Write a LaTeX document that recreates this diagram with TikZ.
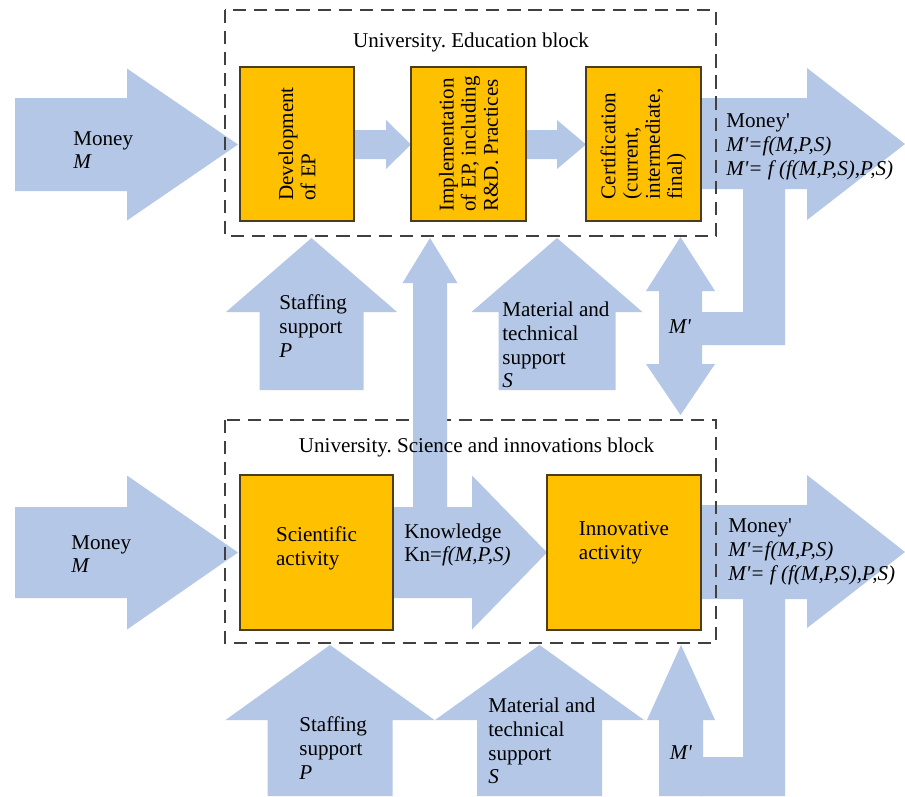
\documentclass[tikz,border=0pt]{standalone}
\usepackage{fontspec}
\setmainfont{LiberationSerif}[Extension=.ttf,UprightFont=*-Regular,ItalicFont=*-Italic,BoldFont=*-Bold,BoldItalicFont=*-BoldItalic]
\usepackage{tikz}
\usetikzlibrary{positioning,calc}
\definecolor{flowblue}{HTML}{B4C7E7}
\definecolor{gold}{HTML}{FFC000}
\definecolor{boxedge}{HTML}{4A3D1C}
\definecolor{framegray}{HTML}{404040}
\frenchspacing
\newcommand{\flowright}[6]{
  \fill[flow] (#1,#4-#5) -- (#2,#4-#5) -- (#2,#4-#6) -- (#3,#4) -- (#2,#4+#6) -- (#2,#4+#5) -- (#1,#4+#5) -- cycle;
}
\newcommand{\flowup}[6]{
  \fill[flow] (#1-#5,#2) -- (#1-#5,#3) -- (#1-#6,#3) -- (#1,#4) -- (#1+#6,#3) -- (#1+#5,#3) -- (#1+#5,#2) -- cycle;
}
\newcommand{\actbox}[4]{
  \node[actbox,minimum width=#3,minimum height=#4] (#1) at #2 {};
}
\tikzset{
  flow/.style={fill=flowblue},
  actbox/.style={draw=boxedge,fill=gold,line width=0.9pt,inner sep=0pt},
  blockframe/.style={draw=framegray,line width=1.1pt,dash pattern=on 7.5pt off 4.5pt},
  txt/.style={font=\fontsize{12pt}{13.5pt}\selectfont,align=left,inner sep=0pt},
  vtxt/.style={txt,font=\fontsize{12pt}{12.6pt}\selectfont,rotate=90},
}

\begin{document}
\begin{tikzpicture}[x=0.02cm,y=-0.02cm]
  \fill[white] (0,0) rectangle (905,796);
  \useasboundingbox (0,0) rectangle (905,796);

  \flowright{15}{127}{238}{144.5}{46.5}{76}
  \flowright{354}{386}{411}{144.5}{14.5}{24.5}
  \flowright{526}{557}{586}{144.5}{14.5}{24.5}
  \fill[flow] (701,98) -- (807,98) -- (807,68) -- (905,144) -- (807,220) -- (807,189) -- (785,189)
    -- (785,345) -- (702,345) -- (702,312) -- (743,312) -- (743,189) -- (701,189) -- cycle;
  \fill[flow] (680.5,237) -- (715,291) -- (702,291) -- (702,364) -- (715,364) -- (680.5,415)
    -- (646,364) -- (659,364) -- (659,291) -- (646,291) -- cycle;
  \flowup{311.5}{390}{312}{238}{52}{85.5}
  \flowup{557}{390}{312}{238}{58.5}{85.5}

  \flowright{15}{127}{238}{552.5}{45.5}{77}
  \flowright{393}{472}{547}{552.5}{45.5}{77}
  \fill[flow] (701,505) -- (807,505) -- (807,475) -- (905,552) -- (807,628) -- (807,599) -- (785,599)
    -- (785,796) -- (700,796) -- (700,757) -- (743,757) -- (743,599) -- (701,599) -- cycle;
  \flowup{330}{796}{720}{645}{62.5}{104.5}
  \flowup{539.5}{796}{720}{645}{62.5}{104.5}
  \flowup{681}{796}{720}{645}{22}{34}

  \draw[blockframe] (225,10) rectangle (716,236);
  \draw[blockframe] (225,420) rectangle (716,643);

  \flowup{430}{508}{283}{238}{17}{27.5}

  \actbox{dev}{(297,144)}{2.28cm}{3.08cm}
  \actbox{impl}{(468.5,144)}{2.3cm}{3.08cm}
  \actbox{cert}{(643.5,144)}{2.3cm}{3.08cm}
  \actbox{sci}{(316.5,552.5)}{3.06cm}{3.1cm}
  \actbox{innov}{(624,552.5)}{3.08cm}{3.1cm}

  \node[vtxt] (devtxt) at (dev) {Development\\of EP};
  \node[vtxt] (impltxt) at (impl) {Implementation\\of EP, including\\R\&D. Practices};
  \node[vtxt] (certtxt) at (cert) {Certification\\(current,\\intermediate,\\final)};
  \node[txt] (scitxt) at (316.5,548) {Scientific\\activity};
  \node[txt] (innovtxt) at (624,543) {Innovative\\activity};

  \node[txt] (edutitle) at (471,42) {University. Education block};
  \node[txt] (scititle) at (476.5,447) {University. Science and innovations block};

  \node[txt,anchor=west] (moneyedu) at (73,150) {Money\\\textit{M}};
  \node[txt,anchor=west] (moneysci) at (71,554) {Money\\\textit{M}};
  \node[txt,anchor=west] (outedu) at (726,147) {Money\textquotesingle\\\textit{M\textquotesingle=f(M,P,S)}\\\textit{M\textquotesingle= f (f(M,P,S),P,S)}};
  \node[txt,anchor=west] (outsci) at (728,552) {Money\textquotesingle\\\textit{M\textquotesingle=f(M,P,S)}\\\textit{M\textquotesingle= f (f(M,P,S),P,S)}};
  \node[txt,anchor=west] (staffedu) at (279,326) {Staffing\\support\\\textit{P}};
  \node[txt,anchor=west] (matedu) at (502,345) {Material and\\technical\\support\\\textit{S}};
  \node[txt] (backedu) at (680,327) {\textit{M\textquotesingle}};
  \node[txt,anchor=west] (know) at (404,545) {Knowledge\\Kn=\textit{f(M,P,S)}};
  \node[txt,anchor=west] (staffsci) at (299,748) {Staffing\\support\\\textit{P}};
  \node[txt,anchor=west] (matsci) at (488,741) {Material and\\technical\\support\\\textit{S}};
  \node[txt] (backsci) at (681,753) {\textit{M\textquotesingle}};
\end{tikzpicture}
\end{document}
